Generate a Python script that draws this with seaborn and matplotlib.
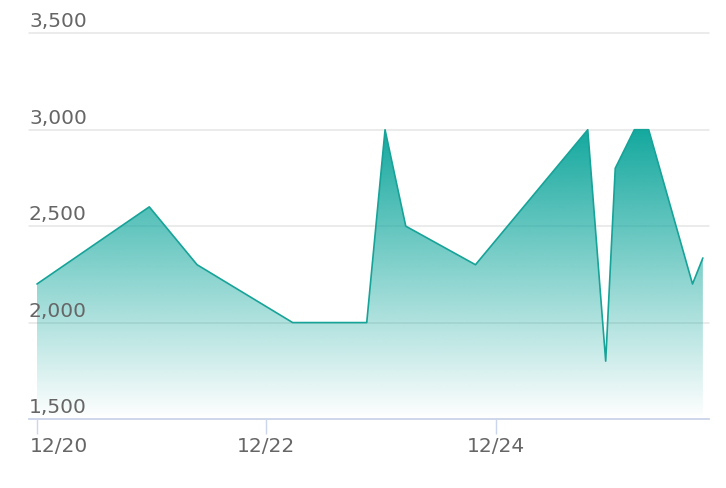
import numpy as np
import pandas as pd
import matplotlib
matplotlib.use("Agg")
import matplotlib.pyplot as plt
import matplotlib.dates as mdates
from matplotlib.transforms import ScaledTranslation
import seaborn as sns

# ---- data ----
times = [
    "2023-12-20 00:00", "2023-12-20 23:30", "2023-12-21 09:30", "2023-12-22 05:30",
    "2023-12-22 21:00", "2023-12-23 00:50", "2023-12-23 05:10", "2023-12-23 19:45",
    "2023-12-24 19:15", "2023-12-24 23:00", "2023-12-25 01:00", "2023-12-25 05:00",
    "2023-12-25 08:00", "2023-12-25 17:10", "2023-12-25 19:20",
]
values = [2200, 2600, 2300, 2000, 2000, 3000, 2500, 2300,
          3000, 1800, 2800, 3000, 3000, 2200, 2335]
x_ticks = ["2023-12-20", "2023-12-22", "2023-12-24"]
x_tick_labels = ["12/20", "12/22", "12/24"]
y_ticks = [1500, 2000, 2500, 3000, 3500]
x_range = ["2023-12-19 22:20", "2023-12-25 20:37"]

df = pd.DataFrame({"time": pd.to_datetime(times), "value": values})

line_color = "#17a398"
fill_color = np.array(matplotlib.colors.to_rgb("#13a89e"))
text_color = "#666666"

sns.set_style("white")
plt.rcParams["font.family"] = ["DejaVu Sans"]

W, H = 726, 488
fig = plt.figure(figsize=(W / 100, H / 100), dpi=100)
ax = fig.add_axes([29 / W, 69 / H, 680 / W, 385.7 / H])

# gradient fill under the line
poly = ax.fill_between(df["time"], df["value"], y_ticks[0], color="none", lw=0)
path = poly.get_paths()[0]
n = 256
grad = np.zeros((n, 1, 4))
grad[:, 0, :3] = fill_color
grad[:, 0, 3] = np.linspace(0, 1, n)
x0 = mdates.date2num(df["time"].iloc[0])
x1 = mdates.date2num(df["time"].iloc[-1])
im = ax.imshow(grad, aspect="auto", origin="lower",
               extent=[x0, x1, y_ticks[0], max(values)], zorder=1,
               interpolation="bilinear")
im.set_clip_path(path, transform=ax.transData)

sns.lineplot(data=df, x="time", y="value", color=line_color, lw=1.2,
             ax=ax, zorder=3)

ax.set_xlim(pd.to_datetime(x_range[0]), pd.to_datetime(x_range[1]))
ax.set_ylim(y_ticks[0], y_ticks[-1])

# grid
ax.set_yticks(y_ticks)
ax.set_yticklabels([""] * len(y_ticks))
ax.tick_params(axis="y", length=0)
ax.grid(axis="y", color="#e6e6e6", lw=1.1)
for gl in ax.get_ygridlines():
    gl.set_clip_on(False)
ax.set_axisbelow(True)

for s in ["top", "left", "right"]:
    ax.spines[s].set_visible(False)
ax.spines["bottom"].set_color("#ccd6eb")
ax.spines["bottom"].set_linewidth(1.3)
ax.spines["bottom"].set_zorder(4)

tick_pos = pd.to_datetime(x_ticks)
ax.set_xticks(tick_pos)
ax.set_xticklabels([""] * len(x_ticks))
ax.tick_params(axis="x", bottom=True, length=11, width=1, color="#ccd6eb",
               direction="out")
ax.set_xlabel("")
ax.set_ylabel("")

# y labels above gridlines, left aligned
ytr = ax.get_yaxis_transform() + ScaledTranslation(0, 2 / 100, fig.dpi_scale_trans)
for v in y_ticks:
    ax.text(0.0, v, f"{v:,}", transform=ytr, ha="left", va="bottom",
            fontsize=14.5, color=text_color)

# x labels
for i, (t, lab) in enumerate(zip(tick_pos, x_tick_labels)):
    if i == 0:
        tr = ax.get_xaxis_transform() + ScaledTranslation(-7 / 100, -27 / 100, fig.dpi_scale_trans)
        ha = "left"
    else:
        tr = ax.get_xaxis_transform() + ScaledTranslation(0, -27 / 100, fig.dpi_scale_trans)
        ha = "center"
    ax.text(t, 0, lab, transform=tr, ha=ha, va="center", fontsize=14.5,
            color=text_color, clip_on=False)

fig.savefig("out.png", dpi=100)
